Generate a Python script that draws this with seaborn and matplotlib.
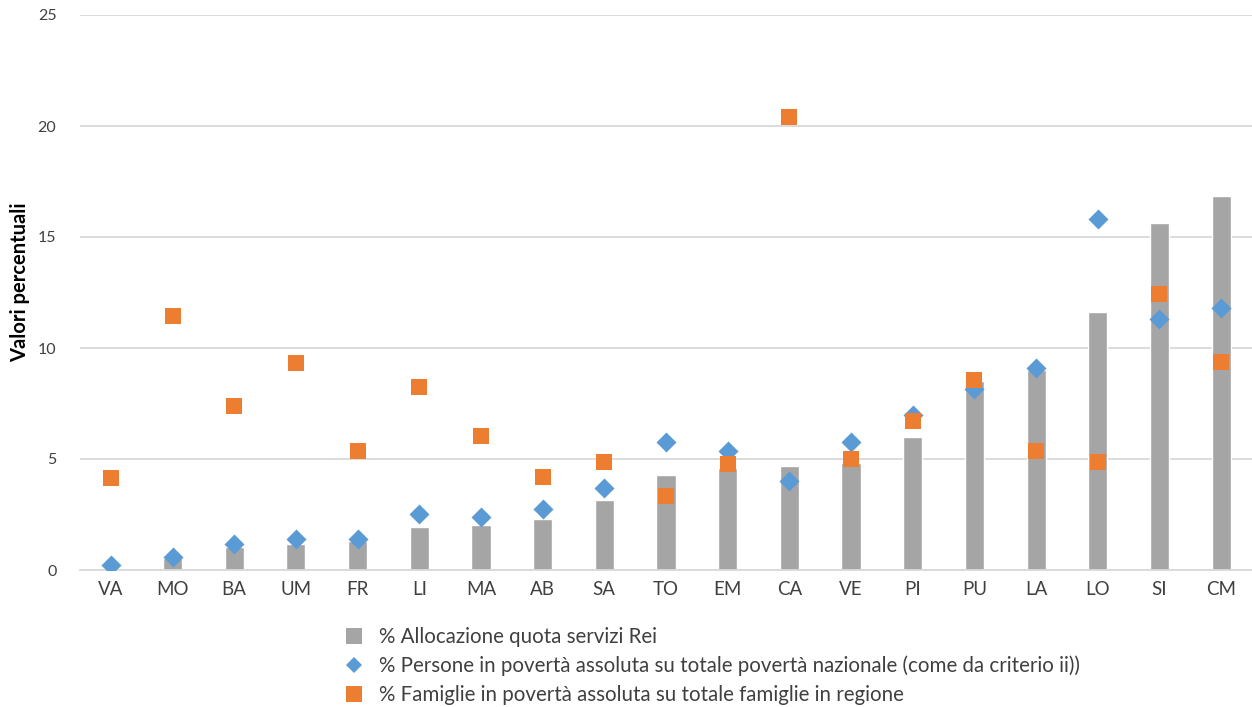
import matplotlib
matplotlib.use("Agg")
import matplotlib.pyplot as plt
from matplotlib.lines import Line2D
import seaborn as sns
import pandas as pd

regions = ["VA", "MO", "BA", "UM", "FR", "LI", "MA", "AB", "SA", "TO",
           "EM", "CA", "VE", "PI", "PU", "LA", "LO", "SI", "CM"]
quota_servizi = [0.05, 0.55, 1.02, 1.17, 1.31, 1.95, 2.02, 2.28, 3.14, 4.27,
                 4.60, 4.68, 4.80, 6.01, 8.50, 9.00, 11.64, 15.65, 16.85]
persone_poverta = [0.21, 0.59, 1.19, 1.38, 1.38, 2.52, 2.38, 2.73, 3.71, 5.77,
                   5.34, 3.99, 5.77, 6.96, 8.17, 9.10, 15.83, 11.30, 11.78]
famiglie_poverta = [4.13, 11.44, 7.38, 9.31, 5.37, 8.26, 6.05, 4.18, 4.85, 3.32,
                    4.79, 20.42, 4.99, 6.72, 8.57, 5.37, 4.85, 12.42, 9.38]

labels = ["% Allocazione quota servizi Rei",
          "% Persone in povertà assoluta su totale povertà nazionale (come da criterio ii))",
          "% Famiglie in povertà assoluta su totale famiglie in regione"]
y_ticks = [0, 5, 10, 15, 20, 25]

GRAY = "#A5A5A5"
BLUE = "#5B9BD5"
ORANGE = "#ED7D31"
TEXT = "#404040"

sns.set_style("white")
plt.rcParams["font.family"] = ["Lato", "DejaVu Sans"]

df = pd.DataFrame({"regione": regions, "servizi": quota_servizi,
                   "persone": persone_poverta, "famiglie": famiglie_poverta})

W, H = 1252, 707
fig = plt.figure(figsize=(W / 100, H / 100), dpi=100)
ax = fig.add_axes([80 / W, 1 - 570 / H, 1172 / W, 555 / H])

# bars first, then diamonds, squares drawn on top
sns.barplot(data=df, x="regione", y="servizi", color=GRAY, width=0.31,
            saturation=1, ax=ax, zorder=2)
sns.stripplot(data=df, x="regione", y="persone", jitter=False, marker="D",
              color=BLUE, size=10.2, linewidth=0, ax=ax, zorder=3)
sns.stripplot(data=df, x="regione", y="famiglie", jitter=False, marker="s",
              color=ORANGE, size=11.5, linewidth=0, ax=ax, zorder=4)

ax.set_xlim(-0.5, len(regions) - 0.5)
ax.set_ylim(0, 25)
ax.set_yticks(y_ticks)
ax.yaxis.grid(True, color="#D9D9D9", linewidth=1.3, zorder=0)
ax.set_axisbelow(True)
for side in ["top", "right", "left"]:
    ax.spines[side].set_visible(False)
ax.spines["bottom"].set_color("#D9D9D9")
ax.spines["bottom"].set_linewidth(1.3)
ax.tick_params(axis="both", length=0)
ax.tick_params(axis="y", labelsize=11.5, labelcolor=TEXT, pad=17)
ax.tick_params(axis="x", labelsize=13.5, labelcolor=TEXT, pad=8)
ax.set_xlabel("")
ax.set_ylabel("Valori percentuali", fontsize=14.5, fontweight="bold",
              color="black")
ax.yaxis.set_label_coords((30 - 80) / 1172, (570 - 282) / 555)

handles = [
    Line2D([], [], linestyle="none", marker="s", markersize=11,
           markerfacecolor=GRAY, markeredgewidth=0),
    Line2D([], [], linestyle="none", marker="D", markersize=8.5,
           markerfacecolor=BLUE, markeredgewidth=0),
    Line2D([], [], linestyle="none", marker="s", markersize=11,
           markerfacecolor=ORANGE, markeredgewidth=0),
]
fig.legend(handles, labels, loc="upper left",
           bbox_to_anchor=(344 / W, 1 - 627 / H),
           frameon=False, fontsize=14.8, labelcolor=TEXT,
           handlelength=1.0, handletextpad=0.7, labelspacing=0.42,
           borderpad=0, borderaxespad=0)

fig.savefig("out.png", dpi=100)
